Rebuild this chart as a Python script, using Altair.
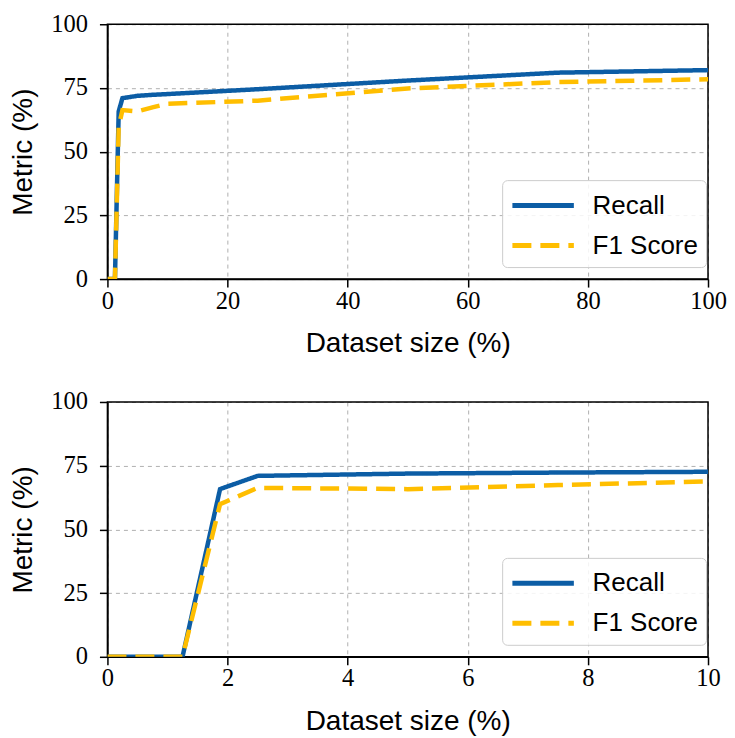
import altair as alt
import pandas as pd

# Data
dataset_size = [0, 1.25, 1.875, 2.5, 5, 7.5, 10, 25, 50, 75, 100]
recall = [0, 0, 65.8, 71.0, 71.9, 72.3, 72.6, 74.5, 77.9, 81.0, 82.0]
f1_score = [0, 0, 59.9, 66.3, 65.8, 67.4, 68.8, 70.0, 74.8, 77.3, 78.4]
series_names = ["Recall", "F1 Score"]
series_colors = ["#0C5DA5", "#FFBE00"]
series_dashes = [[1, 0], [19, 9]]

top_ticks = [0, 20, 40, 60, 80, 100]
bottom_ticks = [0, 2, 4, 6, 8, 10]
y_ticks = [0, 25, 50, 75, 100]

rows = []
for x, r, f in zip(dataset_size, recall, f1_score):
    rows.append({"size": x, "value": r, "series": "Recall"})
    rows.append({"size": x, "value": f, "series": "F1 Score"})
df = pd.DataFrame(rows)

SERIF = "Liberation Serif"
SANS = "Liberation Sans"
W, H = 601, 255


def panel(xmax, xticks, ly):
    leg = alt.Legend(title=None, orient="none", legendX=395, legendY=ly)
    base = alt.Chart(df).mark_line(strokeWidth=4.5, clip=True).encode(
        x=alt.X(
            "size:Q",
            title="Dataset size (%)",
            scale=alt.Scale(domain=[0, xmax], nice=False, zero=False),
            axis=alt.Axis(values=xticks, labelPadding=2, titlePadding=17, labelFlush=False),
        ),
        y=alt.Y(
            "value:Q",
            title="Metric (%)",
            scale=alt.Scale(domain=[0, 100], nice=False),
            axis=alt.Axis(values=y_ticks, labelPadding=12, titlePadding=13, labelFlush=False),
        ),
        color=alt.Color(
            "series:N",
            scale=alt.Scale(domain=series_names, range=series_colors),
            legend=leg,
        ),
        strokeDash=alt.StrokeDash(
            "series:N",
            scale=alt.Scale(domain=series_names, range=series_dashes),
            legend=leg,
        ),
    )
    frame = alt.Chart(pd.DataFrame({"a": [0]})).mark_rect(
        filled=False, stroke="black", strokeWidth=1.5
    ).encode(
        x=alt.value(0), x2=alt.value(W), y=alt.value(0), y2=alt.value(H)
    )
    rec = base.transform_filter(alt.datum.series == "Recall")
    f1 = base.transform_filter(alt.datum.series == "F1 Score")
    return alt.layer(frame, rec, f1).properties(width=W, height=H)


top = panel(100, top_ticks, 156)
bottom = panel(10, bottom_ticks, 156)

chart = (
    alt.vconcat(top, bottom, spacing=123, bounds="flush")
    .resolve_scale(color="independent", strokeDash="independent")
    .resolve_legend(color="independent", strokeDash="independent")
    .properties(padding={"left": 1.5, "top": 3, "right": 0, "bottom": 0}, background="white")
    .configure_view(strokeWidth=0)
    .configure_axis(
        labelFont=SERIF,
        labelFontSize=24.5,
        labelColor="black",
        titleFont=SANS,
        titleFontSize=28,
        titleFontWeight="normal",
        titleColor="black",
        domainColor="black",
        domainWidth=1.5,
        tickColor="black",
        tickWidth=1.5,
        tickSize=8,
        grid=True,
        gridColor="#b0b0b0",
        gridDash=[4, 4],
        gridWidth=1,
    )
    .configure_legend(
        symbolType="M-2.05,0L2.05,0",
        symbolSize=900,
        symbolOffset=15.5,
        symbolStrokeWidth=5,
        labelFont=SANS,
        labelFontSize=26,
        labelColor="black",
        labelOffset=32,
        rowPadding=9,
        padding=8,
        strokeColor="#cccccc",
        fillColor="rgba(255,255,255,0.85)",
        cornerRadius=5,
    )
)

chart.save("out.html", embed_options={"renderer": "svg", "actions": False})
